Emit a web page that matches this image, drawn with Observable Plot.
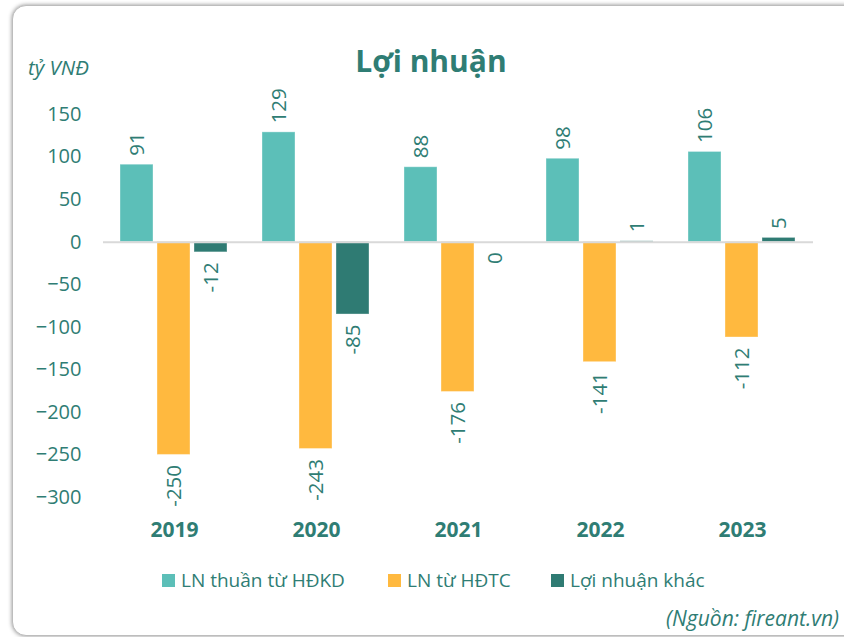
<!DOCTYPE html>
<html>
<head>
<meta charset="utf-8">
<script src="https://cdn.jsdelivr.net/npm/d3@7"></script>
<script src="https://cdn.jsdelivr.net/npm/@observablehq/plot@0.6"></script>
<style>
  html, body { margin: 0; padding: 0; background: #fff; }
  body { width: 844px; height: 637px; position: relative; overflow: hidden; font-family: "Open Sans", sans-serif; color: #2f7d74; }
  #frame { position: absolute; left: 12px; top: 5px; width: 845px; height: 629px; border: 1px solid #bdbdbd; border-radius: 14px; box-shadow: 0 0 4px rgba(0,0,0,0.45); background: #fff; }
  #chart { position: absolute; left: 0; top: 0; }
  .title { position: absolute; left: 0; width: 862px; top: 46px; text-align: center; font-weight: 700; font-size: 30px; line-height: 30px; color: #2f7d74; }
  .unit { position: absolute; left: 28px; top: 57px; font-style: italic; font-size: 20.5px; line-height: 20px; color: #2f7d74; }
  .legend { position: absolute; left: 0; top: 571px; width: 844px; height: 22px; font-size: 19px; line-height: 19px; color: #2f7d74; }
  .legend .item { position: absolute; top: 0; display: flex; align-items: center; white-space: nowrap; }
  .legend .sw { width: 13px; height: 13px; margin-right: 6px; }
  .caption { position: absolute; right: 5px; top: 608px; font-style: italic; font-size: 21px; line-height: 21px; color: #2f7d74; }
  #chart svg [aria-label^="y-axis"] text { font-size: 20px; }
  #chart svg [aria-label^="fx-axis"] text { font-size: 21px; font-weight: 700; }
</style>
</head>
<body>
<div id="frame"></div>
<div class="title">Lợi nhuận</div>
<div class="unit">tỷ VNĐ</div>
<div id="chart"></div>
<div class="legend" id="legend"></div>
<div class="caption">(Nguồn: fireant.vn)</div>
<script>
const years = ["2019", "2020", "2021", "2022", "2023"];
const seriesNames = ["LN thuần từ HĐKD", "LN từ HĐTC", "Lợi nhuận khác"];
const seriesColors = ["#5cbfb8", "#ffb93f", "#2f7b73"];
const lnHDKD = [91, 129, 88, 98, 106];
const lnHDTC = [-250, -243, -176, -141, -112];
const lnKhac = [-12, -85, 0, 1, 5];
const yTicks = [150, 100, 50, 0, -50, -100, -150, -200, -250, -300];

const seriesValues = [lnHDKD, lnHDTC, lnKhac];
const rows = [];
years.forEach((yr, i) => {
  seriesNames.forEach((s, j) => {
    rows.push({year: yr, series: s, value: seriesValues[j][i]});
  });
});

const textColor = "#2f7d74";

const chart = Plot.plot({
  width: 844,
  height: 545,
  marginTop: 114,
  marginBottom: 48,
  marginLeft: 103,
  marginRight: 31,
  style: {background: "transparent", color: textColor, fontFamily: "Open Sans, sans-serif", overflow: "visible"},
  facet: {data: rows, x: "year"},
  fx: {domain: years, paddingInner: 0, paddingOuter: 0, axis: "bottom", label: null, tickSize: 0, tickPadding: 25},
  x: {domain: seriesNames, paddingInner: 0.1, paddingOuter: 0.457, axis: null},
  y: {domain: [-300, 150], ticks: yTicks, tickSize: 0, tickPadding: 22, label: null, grid: false},
  color: {domain: seriesNames, range: seriesColors},
  marks: [
    Plot.barY(rows, {x: "series", y: "value", fill: "series", stroke: "#ffffff", strokeOpacity: 0.35, strokeWidth: 1}),
    Plot.ruleY([0], {stroke: "#d9d9d9", strokeWidth: 2}),
    Plot.text(rows, {filter: d => d.value > 0, x: "series", y: "value", text: d => String(d.value), rotate: -90, textAnchor: "start", dy: -9, fill: textColor, fontSize: 20.5}),
    Plot.text(rows, {filter: d => d.value <= 0, x: "series", y: "value", text: d => String(d.value), rotate: -90, textAnchor: "end", dy: 10, fill: textColor, fontSize: 20.5})
  ]
});
document.getElementById("chart").appendChild(chart);

const legendLeft = [162, 388, 551];
const legend = document.getElementById("legend");
seriesNames.forEach((s, j) => {
  const item = document.createElement("div");
  item.className = "item";
  item.style.left = legendLeft[j] + "px";
  const sw = document.createElement("span");
  sw.className = "sw";
  sw.style.background = seriesColors[j];
  const label = document.createElement("span");
  label.textContent = s;
  item.appendChild(sw);
  item.appendChild(label);
  legend.appendChild(item);
});
</script>
</body>
</html>
